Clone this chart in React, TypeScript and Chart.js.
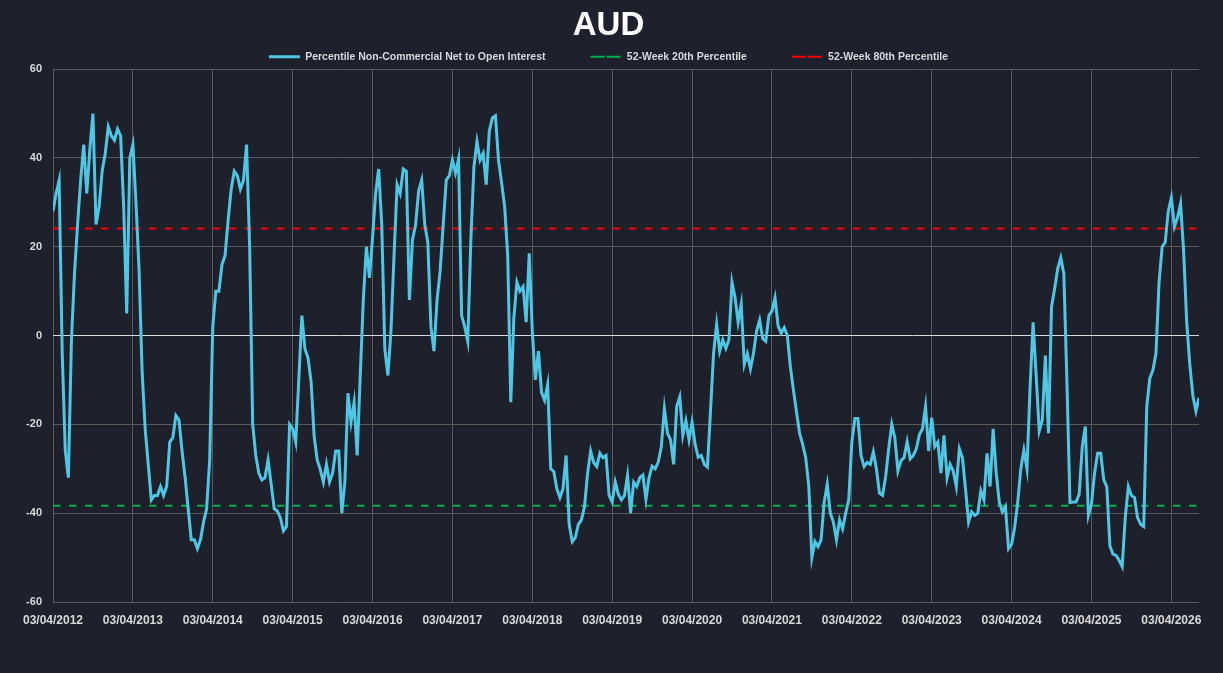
import React, { useEffect, useRef } from "react";
import { Chart, registerables } from "chart.js";

Chart.register(...registerables);

const FONT_FAMILY = "'Liberation Sans', Arial, 'DejaVu Sans', sans-serif";

const TITLE = "AUD";

const SERIES_LABELS = [
  "Percentile Non-Commercial Net to Open Interest",
  "52-Week 20th Percentile",
  "52-Week 80th Percentile",
];

const TICK_LABELS = [
  "03/04/2012", "03/04/2013", "03/04/2014", "03/04/2015", "03/04/2016",
  "03/04/2017", "03/04/2018", "03/04/2019", "03/04/2020", "03/04/2021",
  "03/04/2022", "03/04/2023", "03/04/2024", "03/04/2025", "03/04/2026",
];

// one value every two weeks
const WEEKS_PER_POINT = 2;
const WEEKS_PER_TICK = 52;

const PERCENTILE_VALUES = [
  28, 32, 35, -4, -26, -32, -1, 14, 25, 35,
  43, 32, 42, 50, 25, 29, 37, 41, 47, 45,
  44, 46.5, 45, 29, 5, 40, 43, 30, 15, -8,
  -21, -29, -37, -36, -36, -34, -36, -34, -24, -23,
  -18, -19, -26, -32, -39, -46, -46, -48, -46, -42,
  -39, -28, 2, 10, 10, 16, 18, 26, 33, 37,
  36, 33, 35,
  43, 20, -20, -27, -31, -32.5, -32, -28, -33.4, -39,
  -39.5, -41, -44, -43, -20, -21, -24, -10, 4.5, -3,
  -5, -10.4, -22.7, -28, -30.2, -33, -29, -33, -31, -26,
  -26, -40, -33, -13, -19.5, -15, -27, -9, 8, 20,
  13, 22, 32, 37.5, 25, -3, -9, 1, 18, 34,
  32, 37.5, 37, 8, 21.6, 24.8, 32.6, 35, 25, 21,
  2, -3.5, 8, 14.5,
  25, 35, 36, 39.5, 36.6, 39.8, 4.5, 2, -1.3, 21.5,
  38, 43.7, 39.5, 41, 34, 46, 49, 49.5, 39.5, 34.5,
  29, 18, -15, 4, 12, 10, 11, 3, 18.5, 1,
  -10, -3.5, -12.8, -14.6, -11, -30, -30.6, -34.5, -36.5, -34.5,
  -27, -42.5, -46.4, -45.5, -42.5, -41.5, -38.5, -31, -26, -28.6,
  -29.5, -26.5, -27.5, -27, -36, -37.5, -33, -35.7, -37, -36,
  -31.5, -40, -33,
  -34, -32, -31.4, -36.9, -32, -29.4, -30, -28.5, -25, -16.5,
  -22, -23.5, -29, -16, -13.8, -22.5, -19.2, -23.5, -19.5, -24.5,
  -27.4, -27, -29, -29.6, -17, -4, 2.5, -3.5, -1, -2.9,
  -1, 12, 8.5, 3, 7, -6.5, -4.1, -7.5, -4, 1,
  3.5, -0.7, -1.3, 4.5, 5.5, 8.5, 2.2, 0.5, 1.8, 0,
  -7, -12.3, -17.2, -22, -24.5, -27.5, -34, -50, -46.4, -47.5,
  -46, -37.5, -33.5, -40, -42,
  -46, -41.5, -43.5, -40, -37, -24, -18.7, -18.7, -27, -29.5,
  -28.6, -29, -26.2, -30, -35.5, -36, -31.8, -25.5, -20, -23,
  -30.5, -28.2, -27.5, -23.9, -27.8, -27, -25.5, -22.3, -21, -16,
  -26, -18.5, -25, -24, -31, -22.5, -32, -29, -30.5, -34,
  -25.5, -27.5, -34.5, -42, -39.7, -40.5, -40, -35, -37, -26.5,
  -34, -21, -31, -37.5, -39.7, -38.5, -48, -47, -43.2, -37.5,
  -30, -25.8,
  -30, -12, 3, -9, -21.5, -19, -4.5, -22, 6.5, 10.5,
  15, 17.5, 14, -10, -37.6, -37.5, -37.5, -35.7, -25, -20.5,
  -40.5, -38, -31, -26.5, -26.5, -32.5, -34, -47.4, -49.2, -49.5,
  -50.6, -52, -41, -34, -36, -36.5, -41, -42.5, -43, -16,
  -9.6, -7.8, -4, 12, 20, 21, 28, 31, 24.5, 26.5,
  29.7, 19, 3, -6.5, -13.5, -17, -14,
];

const P20_LEVEL = -38.3;
const P80_LEVEL = 24.1;

const Y_MIN = -60;
const Y_MAX = 60;
const Y_STEP = 20;

const COLORS = {
  background: "#1e212c",
  line: "#4fc6e3",
  p20: "#00b050",
  p80: "#ff0000",
  text: "#d9d9d9",
  title: "#ffffff",
  grid: "#5a5a5a",
  zero: "#d9d9d9",
};

export default function App() {
  const canvasRef = useRef<HTMLCanvasElement | null>(null);

  useEffect(() => {
    const canvas = canvasRef.current;
    if (!canvas) return;
    Chart.defaults.font.family = FONT_FAMILY;

    const lastWeek = (PERCENTILE_VALUES.length - 1) * WEEKS_PER_POINT;
    const mainData = PERCENTILE_VALUES.map((v, i) => ({ x: i * WEEKS_PER_POINT, y: v }));
    const p20Data = [
      { x: 0, y: P20_LEVEL },
      { x: lastWeek, y: P20_LEVEL },
    ];
    const p80Data = [
      { x: 0, y: P80_LEVEL },
      { x: lastWeek, y: P80_LEVEL },
    ];

    const chart = new Chart(canvas, {
      type: "line",
      data: {
        datasets: [
          {
            label: SERIES_LABELS[0],
            data: mainData,
            borderColor: COLORS.line,
            backgroundColor: COLORS.line,
            borderWidth: 3,
            pointRadius: 0,
            tension: 0,
          },
          {
            label: SERIES_LABELS[1],
            data: p20Data,
            borderColor: COLORS.p20,
            backgroundColor: COLORS.p20,
            borderWidth: 2,
            borderDash: [7.5, 8.5],
            pointRadius: 0,
          },
          {
            label: SERIES_LABELS[2],
            data: p80Data,
            borderColor: COLORS.p80,
            backgroundColor: COLORS.p80,
            borderWidth: 2,
            borderDash: [7.5, 8.5],
            pointRadius: 0,
          },
        ],
      },
      options: {
        responsive: false,
        animation: false,
        events: [],
        layout: { padding: { left: 18, right: 24, top: 0, bottom: 0 } },
        plugins: {
          title: {
            display: true,
            text: TITLE,
            color: COLORS.title,
            font: { size: 33, weight: "bold", family: FONT_FAMILY },
            padding: { top: 6, bottom: -39 },
          },
          legend: {
            display: true,
            position: "top",
            maxHeight: 62.5,
            labels: {
              color: COLORS.text,
              font: { size: 10.5, weight: "bold", family: FONT_FAMILY },
              boxWidth: 31,
              boxHeight: 0,
              padding: 45,
            },
          },
          tooltip: { enabled: false },
        },
        scales: {
          x: {
            type: "linear",
            min: 0,
            max: lastWeek,
            afterFit: (s: any) => {
              s.height = 71;
            },
            ticks: {
              stepSize: WEEKS_PER_TICK,
              includeBounds: false,
              autoSkip: false,
              maxRotation: 0,
              color: COLORS.text,
              font: { size: 12, weight: "bold", family: FONT_FAMILY },
              padding: 11,
              callback: (value: any) => {
                const idx = Number(value) / WEEKS_PER_TICK;
                return Number.isInteger(idx) ? TICK_LABELS[idx] : undefined;
              },
            },
            grid: { color: COLORS.grid, drawTicks: false, lineWidth: 1 },
            border: { display: false },
          },
          y: {
            min: Y_MIN,
            max: Y_MAX,
            afterFit: (s: any) => {
              s.width = 35;
            },
            ticks: {
              stepSize: Y_STEP,
              color: COLORS.text,
              font: { size: 11, weight: "bold", family: FONT_FAMILY },
              padding: 11,
            },
            grid: {
              color: (ctx: any) => (ctx.tick && ctx.tick.value === 0 ? COLORS.zero : COLORS.grid),
              drawTicks: false,
              lineWidth: 1,
            },
            border: { display: false },
          },
        },
      },
    });

    return () => {
      chart.destroy();
    };
  }, []);

  return (
    <div
      style={{
        position: "fixed",
        left: 0,
        top: 0,
        width: 1223,
        height: 673,
        background: COLORS.background,
      }}
    >
      <canvas ref={canvasRef} width={1223} height={673} style={{ display: "block" }} />
    </div>
  );
}
